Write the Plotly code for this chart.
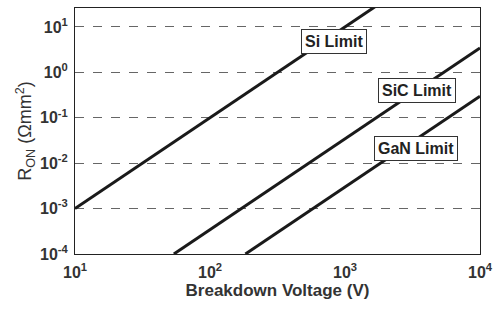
import math
import plotly.graph_objects as go

# Data (breakdown voltage in V, specific on-resistance in Ohm*mm^2)
si_v = [10, 100, 1000, 3000]
si_r = [1e-3, 1e-1, 10, 90]
sic_v = [54, 540, 5400, 10000]
sic_r = [1e-4, 1e-2, 1.0, 3.43]
gan_v = [183, 1830, 10000]
gan_r = [1e-4, 1e-2, 0.298]

labels = ["Si Limit", "SiC Limit", "GaN Limit"]
label_x = [10**2.92, 10**3.53, 10**3.526]
label_y = [10**0.67, 10**-0.40, 10**-1.675]

x_ticks = [10, 100, 1000, 10000]
x_ticktext = ["10<sup>1</sup>", "10<sup>2</sup>", "10<sup>3</sup>", "10<sup>4</sup>"]
y_ticks = [1e-4, 1e-3, 1e-2, 1e-1, 1, 10]
y_ticktext = ["10<sup>-4</sup>", "10<sup>-3</sup>", "10<sup>-2</sup>", "10<sup>-1</sup>",
              "10<sup>0</sup>", "10<sup>1</sup>"]

FONT = "Liberation Sans, Arial"
line_color = "#1a1a1a"
fig = go.Figure()
for v, r in [(si_v, si_r), (sic_v, sic_r), (gan_v, gan_r)]:
    fig.add_trace(go.Scatter(x=v, y=r, mode="lines",
                             line=dict(color=line_color, width=3),
                             showlegend=False, hoverinfo="skip"))

for t, x, y in zip(labels, label_x, label_y):
    fig.add_annotation(x=math.log10(x), y=math.log10(y), text="<b>" + t + "</b>",
                       showarrow=False, bgcolor="white", bordercolor="#333",
                       borderwidth=1, borderpad=3,
                       font=dict(family=FONT, size=16, color="#222"))

fig.update_layout(
    width=500, height=311,
    margin=dict(l=75, r=14, t=7, b=57),
    paper_bgcolor="white", plot_bgcolor="white",
    font=dict(family=FONT, color="#333"),
)
fig.update_xaxes(type="log", range=[1, 4], tickmode="array",
                 tickvals=x_ticks, ticktext=[f"<b>{t}</b>" for t in x_ticktext],
                 tickfont=dict(family=FONT, size=16, color="#333"),
                 ticklabelstandoff=4,
                 showgrid=False, zeroline=False,
                 showline=True, linecolor="#222", linewidth=1, mirror=True,
                 ticks="",
                 title=dict(text="<b>Breakdown Voltage (V)</b>",
                            font=dict(family=FONT, size=17, color="#333"),
                            standoff=3))
fig.update_yaxes(type="log", range=[-4, 1.417], tickmode="array",
                 tickvals=y_ticks, ticktext=[f"<b>{t}</b>" for t in y_ticktext],
                 tickfont=dict(family=FONT, size=16, color="#333"),
                 ticklabelstandoff=3,
                 showgrid=True, gridcolor="#666", griddash="dash", gridwidth=1,
                 zeroline=False,
                 showline=True, linecolor="#222", linewidth=1, mirror=True,
                 ticks="",
                 title=dict(text="R<sub>ON</sub> (Ωmm<sup>2</sup>)",
                            font=dict(family=FONT, size=18, color="#333"),
                            standoff=3))

fig.write_html("out.html")
